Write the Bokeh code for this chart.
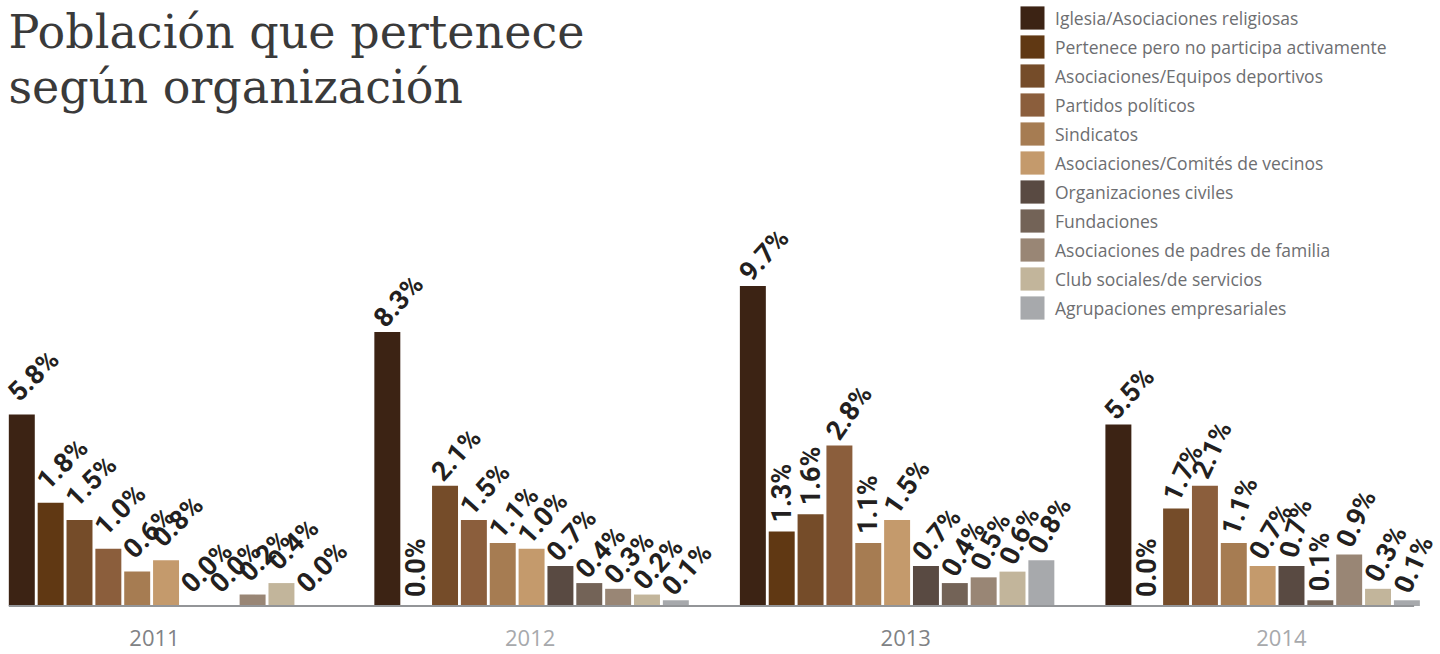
import numpy as np
from bokeh.plotting import figure
from bokeh.models import ColumnDataSource, Range1d, Label, Legend, LegendItem
from bokeh.core.properties import value
from bokeh.embed import file_html
from bokeh.resources import INLINE

# ---------------- data ----------------
years = ["2011", "2012", "2013", "2014"]
categories = [
    "Iglesia/Asociaciones religiosas",
    "Pertenece pero no participa activamente",
    "Asociaciones/Equipos deportivos",
    "Partidos políticos",
    "Sindicatos",
    "Asociaciones/Comités de vecinos",
    "Organizaciones civiles",
    "Fundaciones",
    "Asociaciones de padres de familia",
    "Club sociales/de servicios",
    "Agrupaciones empresariales",
]
v2011 = [5.8, 1.8, 1.5, 1.0, 0.6, 0.8, 0.0, 0.0, 0.2, 0.4, 0.0]
v2012 = [8.3, 0.0, 2.1, 1.5, 1.1, 1.0, 0.7, 0.4, 0.3, 0.2, 0.1]
v2013 = [9.7, 1.3, 1.6, 2.8, 1.1, 1.5, 0.7, 0.4, 0.5, 0.6, 0.8]
v2014 = [5.5, 0.0, 1.7, 2.1, 1.1, 0.7, 0.7, 0.1, 0.9, 0.3, 0.1]
values_by_year = [v2011, v2012, v2013, v2014]

# ---------------- style ----------------
colors = ["#3c2314", "#603813", "#754c29", "#8b5e3c", "#a67c52", "#c49a6c",
          "#594a42", "#736357", "#998675", "#c2b59b", "#a7a9ac"]
year_colors = ["#808285", "#a7a9ac", "#808285", "#a7a9ac"]
# label rotation (degrees) per year, per category
ang2011 = [45, 45, 45, 45, 45, 45, 45, 45, 45, 45, 45]
ang2012 = [48, 90, 48, 48, 48, 48, 48, 48, 48, 48, 48]
ang2013 = [48, 90, 90, 55, 90, 55, 50, 60, 65, 65, 60]
ang2014 = [48, 90, 65, 65, 70, 60, 75, 90, 65, 62, 66]
angles_by_year = [ang2011, ang2012, ang2013, ang2014]
label_lift = [-18, -9, -9, -9]   # px above bar top, per year

W, H = 1440, 652
PX = 28.85          # px per category slot
G = 12.67           # slot offset between year groups
YEAR_G = 13.02      # spacing of the year captions (slots)
YEAR_C = 4.6        # first year caption position (slots)
BASE = H - 605.5    # px from bottom to baseline
PPU_MAIN = 57.3     # px per % (main scale)
PPU_IG = 33.0       # px per % (Iglesia bars, compressed scale)

x0 = -21.3 / PX
p = figure(width=W, height=H, output_backend="svg", toolbar_location=None,
           x_range=Range1d(x0, x0 + W / PX),
           y_range=Range1d(-BASE / PPU_MAIN, (H - BASE) / PPU_MAIN),
           x_axis_location=None, y_axis_location=None,
           min_border=0, min_border_left=0, min_border_right=0,
           min_border_top=0, min_border_bottom=0)
p.extra_y_ranges = {"ig": Range1d(-BASE / PPU_IG, (H - BASE) / PPU_IG)}
p.xgrid.visible = False
p.ygrid.visible = False
p.outline_line_color = None
p.background_fill_color = "white"
p.border_fill_color = "white"

all_x = []
items = []
for j, cat in enumerate(categories):
    xs = [g * G + j for g in range(len(years))]
    all_x.extend(xs)
    vals = [vy[j] for vy in values_by_year]
    angs = [np.radians(a[j]) for a in angles_by_year]
    xoff = [-9.0 * np.cos(a) / np.cos(np.pi / 4) for a in angs]
    src = ColumnDataSource(dict(x=xs, top=vals, label=[f"{v:.1f}%" for v in vals],
                                angle=angs, xoff=xoff, yoff=label_lift))
    rng = "ig" if j == 0 else "default"
    r = p.vbar(x="x", top="top", width=0.9, source=src, fill_color=colors[j],
               line_color=None, y_range_name=rng)
    p.text(x="x", y="top", text="label", angle="angle", x_offset="xoff", y_offset="yoff",
           source=src, y_range_name=rng, text_font=value("Roboto"),
           text_font_style="bold", text_font_size="27px", text_color="#231f20",
           text_align="left", text_baseline="middle")
    items.append(LegendItem(label=cat, renderers=[r]))

# baseline
p.segment(x0=[min(all_x) - 0.45], y0=[0], x1=[max(all_x) + 0.25], y1=[0],
          line_color="#939598", line_width=2)

# year labels
ysrc = ColumnDataSource(dict(x=[YEAR_C + g * YEAR_G for g in range(len(years))],
                             y=[0] * len(years), text=years, color=year_colors))
p.text(x="x", y="y", text="text", source=ysrc, y_offset=32, text_color="color",
       text_font=value("Open Sans"), text_font_size="22px",
       text_align="center", text_baseline="middle")

# legend
legend = Legend(items=items, location=(1017, H - 3 - 11 * 29), orientation="vertical",
                glyph_width=30, glyph_height=29, spacing=0, padding=0, margin=0,
                label_standoff=8, label_text_font="Open Sans",
                label_text_font_size="17.5px", label_text_color="#6d6e71",
                border_line_color=None, background_fill_alpha=0)
p.add_layout(legend)

# title
p.add_layout(Label(x=8, y=H - 31, x_units="screen", y_units="screen",
                   text="Población que pertenece", text_font="DejaVu Serif",
                   text_font_size="46px", text_color="#3a3a3a",
                   text_baseline="alphabetic"))
p.add_layout(Label(x=8, y=H - 86, x_units="screen", y_units="screen",
                   text="según organización", text_font="DejaVu Serif",
                   text_font_size="46px", text_color="#3a3a3a",
                   text_baseline="alphabetic"))

open("out.html", "w").write(file_html(p, INLINE))
